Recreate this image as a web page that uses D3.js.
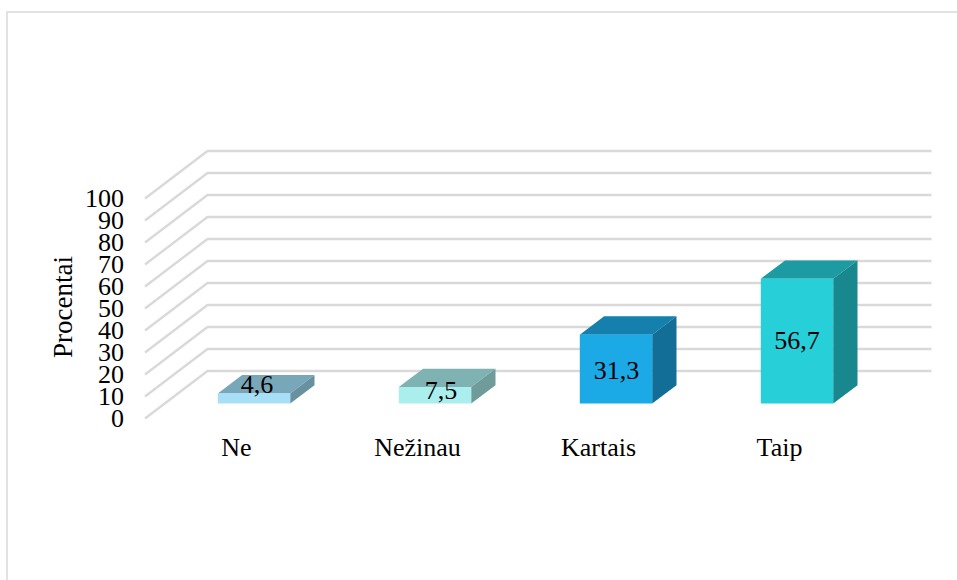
<!DOCTYPE html>
<html>
<head>
<meta charset="utf-8">
<script src="https://cdn.jsdelivr.net/npm/d3@7"></script>
<style>
  html, body { margin: 0; padding: 0; background: #fff; }
  svg { display: block; }
  text { font-family: "Liberation Serif", serif; fill: #000; }
  .tick text { font-family: "Liberation Serif", serif; }
</style>
</head>
<body>
<svg></svg>
<script>
const categories = ['Ne', 'Nežinau', 'Kartais', 'Taip'];
const percents = [4.6, 7.5, 31.3, 56.7];
const percentLabels = ['4,6', '7,5', '31,3', '56,7'];
const yTicks = [0, 10, 20, 30, 40, 50, 60, 70, 80, 90, 100];
const frontColors = ['#a6dff6', '#aaeeee', '#1caae6', '#27cfd9'];
const topColors = ['#79a7ba', '#7fb2b2', '#157fad', '#1d9ba3'];
const sideColors = ['#67919f', '#6f9b9b', '#126e96', '#18878e'];

const width = 957;
const height = 580;
const fontSize = 26;

// floor depth of the 3D box, and how far into it the bars stand
const depthX = 62.5;
const depthY = 47.5;
const barDepthX = 24.3;
const barDepthY = 18.3;
const barInsetX = 18.5;
const barInsetY = 15;

// labels were placed by hand in the original
const labelNudge = [[3, -5.5], [6, 3.7], [0.5, 9.5], [0, 8]];

const svg = d3.select('svg')
    .attr('width', width).attr('height', height);

const x = d3.scaleBand()
    .domain(categories)
    .range([145, 869])
    .paddingInner(0.6)
    .paddingOuter(0.3);

const y = d3.scaleLinear()
    .domain([0, 100])
    .range([418.5, 198.5]);

// chart frame, only top and left show
svg.append('path')
    .attr('d', `M${width},12H7V${height}`)
    .attr('fill', 'none')
    .attr('stroke', '#e2e2e2')
    .attr('stroke-width', 2);

// gridlines run up the side wall, then along the back
const x0 = x.range()[0];
const x1 = x.range()[1];
svg.append('g').selectAll('path')
    .data(yTicks)
    .enter().append('path')
    .attr('d', d => `M${x0},${y(d)}L${x0 + depthX},${y(d) - depthY}H${x1 + depthX}`)
    .attr('fill', 'none')
    .attr('stroke', '#d9d9d9')
    .attr('stroke-width', 2.4);

const yAxis = d3.axisLeft(y)
    .tickValues(yTicks)
    .tickSize(0)
    .tickPadding(21);

svg.append('g')
    .attr('transform', `translate(${x0},0)`)
    .call(yAxis)
    .call(g => g.select('.domain').remove())
    .selectAll('text')
    .style('font-size', fontSize + 'px');

svg.append('text')
    .attr('transform', 'translate(72,307) rotate(-90)')
    .attr('text-anchor', 'middle')
    .style('font-size', '27px')
    .text('Procentai');

const xAxis = d3.axisBottom(x)
    .tickSize(0)
    .tickPadding(0);

svg.append('g')
    .attr('transform', 'translate(1,438)')
    .call(xAxis)
    .call(g => g.select('.domain').remove())
    .selectAll('text')
    .style('font-size', fontSize + 'px');

const bars = svg.append('g').selectAll('g')
    .data(categories)
    .enter().append('g');

const left = d => x(d) + barInsetX;
const right = d => left(d) + x.bandwidth();
const base = y(0) - barInsetY;
const top3d = (d, i) => base - (y(0) - y(percents[i]));

bars.append('path')
    .attr('fill', (d, i) => topColors[i])
    .attr('d', (d, i) => `M${left(d)},${top3d(d, i)}l${barDepthX},${-barDepthY}H${right(d) + barDepthX}l${-barDepthX},${barDepthY}Z`);

bars.append('path')
    .attr('fill', (d, i) => sideColors[i])
    .attr('d', (d, i) => `M${right(d)},${base}V${top3d(d, i)}l${barDepthX},${-barDepthY}V${base - barDepthY}Z`);

bars.append('rect')
    .attr('x', left)
    .attr('y', top3d)
    .attr('width', x.bandwidth())
    .attr('height', (d, i) => base - top3d(d, i))
    .attr('fill', (d, i) => frontColors[i]);

bars.append('text')
    .attr('text-anchor', 'middle')
    .attr('x', (d, i) => left(d) + x.bandwidth() / 2 + labelNudge[i][0])
    .attr('y', (d, i) => (base + top3d(d, i)) / 2 + labelNudge[i][1])
    .style('font-size', fontSize + 'px')
    .text((d, i) => percentLabels[i]);
</script>
</body>
</html>
